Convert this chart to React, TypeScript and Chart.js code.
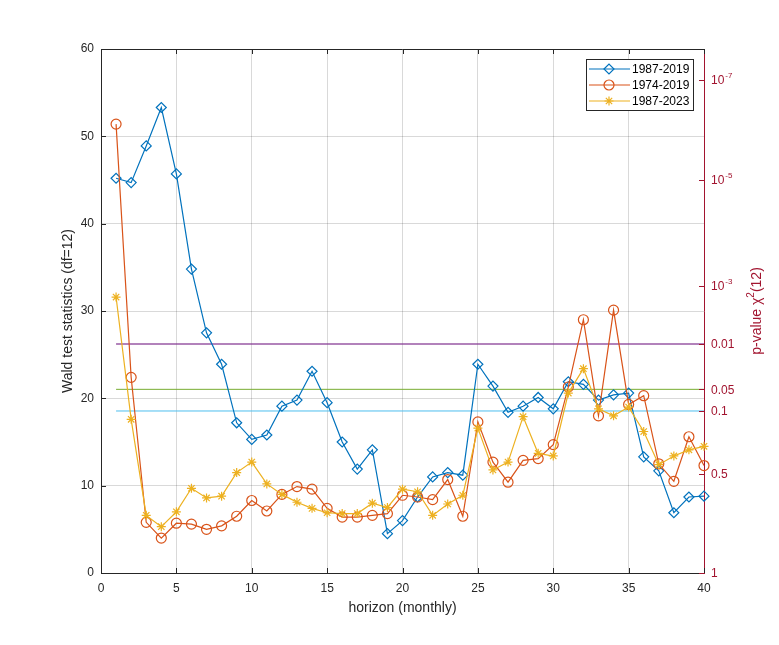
import React, { useEffect, useRef } from 'react';
import { Chart, registerables } from 'chart.js';
import { drawPoint } from 'chart.js/helpers';

Chart.register(...registerables);

const HORIZON = [
  1, 2, 3, 4, 5, 6, 7, 8, 9, 10, 11, 12, 13, 14, 15, 16, 17, 18, 19, 20,
  21, 22, 23, 24, 25, 26, 27, 28, 29, 30, 31, 32, 33, 34, 35, 36, 37, 38, 39, 40,
];

const S_1987_2019 = [
  45.2, 44.7, 48.9, 53.3, 45.7, 34.8, 27.5, 23.9, 17.2, 15.3,
  15.8, 19.1, 19.8, 23.1, 19.5, 15.0, 11.9, 14.1, 4.5, 6.0,
  8.7, 11.0, 11.5, 11.2, 23.9, 21.4, 18.4, 19.1, 20.1, 18.8,
  21.9, 21.6, 19.8, 20.4, 20.6, 13.3, 11.7, 6.9, 8.7, 8.8,
];

const S_1974_2019 = [
  51.4, 22.4, 5.8, 4.0, 5.7, 5.6, 5.0, 5.4, 6.5, 8.3,
  7.1, 9.0, 9.9, 9.6, 7.4, 6.4, 6.4, 6.6, 6.8, 8.9,
  8.7, 8.4, 10.7, 6.5, 17.3, 12.7, 10.4, 12.9, 13.1, 14.7,
  21.3, 29.0, 18.0, 30.1, 19.3, 20.3, 12.5, 10.5, 15.6, 12.3,
];

const S_1987_2023 = [
  31.6, 17.6, 6.6, 5.3, 7.0, 9.7, 8.6, 8.8, 11.5, 12.7,
  10.2, 9.0, 8.1, 7.4, 6.9, 6.8, 6.8, 8.0, 7.5, 9.6,
  9.3, 6.6, 7.9, 8.9, 16.6, 11.8, 12.7, 17.9, 13.7, 13.4,
  20.6, 23.4, 18.8, 18.0, 19.0, 16.2, 12.4, 13.4, 14.1, 14.5,
];

// chi2(12) critical values for p = 0.01, 0.05, 0.1
const CRIT_LINES = [26.22, 21.03, 18.55];
const CRIT_X = [1, 40];

// right axis: wald value -> p-value label (base, exponent)
const P_TICK_VALUES = [0, 11.34, 18.55, 21.03, 26.22, 32.91, 45.05, 56.45];
const P_TICK_BASE = ['1', '0.5', '0.1', '0.05', '0.01', '10', '10', '10'];
const P_TICK_EXP = ['', '', '', '', '', '-3', '-5', '-7'];

const BLUE = '#0072BD';
const ORANGE = '#D95319';
const YELLOW = '#EDB120';
const RED = '#A2142F';
const AXIS = '#262626';
const FONT = 'Arial, "Liberation Sans", sans-serif';

const SERIES = [
  { label: '1987-2019', data: S_1987_2019, color: BLUE, style: 'rectRot', radius: 5 },
  { label: '1974-2019', data: S_1974_2019, color: ORANGE, style: 'circle', radius: 5 },
  { label: '1987-2023', data: S_1987_2023, color: YELLOW, style: 'star', radius: 4.5 },
];

const overlay = {
  id: 'overlay',
  afterDraw(chart: any) {
    const { ctx, chartArea: a, scales } = chart;
    const xs = scales.x;
    const ys = scales.y;
    const y1 = scales.y1;
    ctx.save();

    // top border
    ctx.strokeStyle = AXIS;
    ctx.lineWidth = 1;
    ctx.beginPath();
    ctx.moveTo(a.left, a.top + 0.5);
    ctx.lineTo(a.right, a.top + 0.5);
    ctx.stroke();

    // inward tick marks
    ctx.beginPath();
    xs.ticks.forEach((t: any) => {
      const px = Math.round(xs.getPixelForValue(t.value)) + 0.5;
      ctx.moveTo(px, a.bottom);
      ctx.lineTo(px, a.bottom - 5);
      ctx.moveTo(px, a.top);
      ctx.lineTo(px, a.top + 5);
    });
    ys.ticks.forEach((t: any) => {
      const py = Math.round(ys.getPixelForValue(t.value)) + 0.5;
      ctx.moveTo(a.left, py);
      ctx.lineTo(a.left + 5, py);
    });
    ctx.stroke();

    ctx.strokeStyle = RED;
    ctx.beginPath();
    P_TICK_VALUES.forEach((v) => {
      const py = Math.round(y1.getPixelForValue(v)) + 0.5;
      ctx.moveTo(a.right, py);
      ctx.lineTo(a.right - 5, py);
    });
    ctx.stroke();

    // right tick labels
    ctx.fillStyle = RED;
    ctx.textBaseline = 'middle';
    ctx.textAlign = 'left';
    P_TICK_VALUES.forEach((v, i) => {
      const py = y1.getPixelForValue(v);
      const x0 = a.right + 7;
      ctx.font = `12px ${FONT}`;
      ctx.fillText(P_TICK_BASE[i], x0, py + 1);
      if (P_TICK_EXP[i]) {
        const w = ctx.measureText(P_TICK_BASE[i]).width;
        ctx.font = `8px ${FONT}`;
        ctx.fillText(P_TICK_EXP[i], x0 + w + 1, py - 4);
      }
    });

    // axis titles
    ctx.fillStyle = AXIS;
    ctx.font = `14px ${FONT}`;
    ctx.textAlign = 'center';
    ctx.fillText('horizon (monthly)', (a.left + a.right) / 2, 608);

    ctx.save();
    ctx.translate(68, (a.top + a.bottom) / 2);
    ctx.rotate(-Math.PI / 2);
    ctx.fillText('Wald test statistics (df=12)', 0, 0);
    ctx.restore();

    ctx.save();
    ctx.translate(757, (a.top + a.bottom) / 2);
    ctx.rotate(-Math.PI / 2);
    ctx.fillStyle = RED;
    const p1 = 'p-value \u03C7';
    const p2 = '2';
    const p3 = '(12)';
    ctx.font = `14px ${FONT}`;
    const w1 = ctx.measureText(p1).width;
    const w3 = ctx.measureText(p3).width;
    ctx.font = `10px ${FONT}`;
    const w2 = ctx.measureText(p2).width;
    let tx = -(w1 + w2 + w3) / 2;
    ctx.textAlign = 'left';
    ctx.font = `14px ${FONT}`;
    ctx.fillText(p1, tx, 0);
    tx += w1;
    ctx.font = `10px ${FONT}`;
    ctx.fillText(p2, tx, -6);
    tx += w2;
    ctx.font = `14px ${FONT}`;
    ctx.fillText(p3, tx, 0);
    ctx.restore();

    // legend
    const bw = 107;
    const bh = 51;
    const bx = a.right - 11 - bw;
    const by = a.top + 10;
    ctx.fillStyle = '#ffffff';
    ctx.fillRect(bx, by, bw, bh);
    ctx.strokeStyle = AXIS;
    ctx.lineWidth = 1;
    ctx.strokeRect(bx + 0.5, by + 0.5, bw, bh);
    SERIES.forEach((s, i) => {
      const ry = by + 10 + i * 16;
      ctx.strokeStyle = s.color;
      ctx.lineWidth = 1.2;
      ctx.beginPath();
      ctx.moveTo(bx + 3, ry);
      ctx.lineTo(bx + 44, ry);
      ctx.stroke();
      ctx.fillStyle = 'rgba(0,0,0,0)';
      drawPoint(ctx, { pointStyle: s.style, radius: s.radius, rotation: 0, borderWidth: 1.2 } as any, bx + 23, ry);
      ctx.fillStyle = '#000000';
      ctx.font = `12px ${FONT}`;
      ctx.textAlign = 'left';
      ctx.textBaseline = 'middle';
      ctx.fillText(s.label, bx + 46, ry + 1);
    });

    ctx.restore();
  },
};

const App: React.FC = () => {
  const chartRef = useRef<HTMLCanvasElement>(null);

  useEffect(() => {
    document.body.style.margin = '0';
    const ctx = chartRef.current?.getContext('2d');
    if (!ctx) return;

    const critColors = ['rgba(126, 47, 142, 0.6)', '#77AC30', '#4DBEEE'];
    const critWidths = [2, 1, 1];

    const chart = new Chart(ctx, {
      type: 'line',
      data: {
        datasets: [
          ...SERIES.map((s, i) => ({
            label: s.label,
            data: s.data.map((v, j) => ({ x: HORIZON[j], y: v })),
            borderColor: s.color,
            borderWidth: 1.2,
            pointStyle: s.style as any,
            pointRadius: s.radius,
            pointBorderWidth: 1.2,
            pointBorderColor: s.color,
            pointBackgroundColor: 'rgba(0,0,0,0)',
            tension: 0,
            clip: false as any,
            order: 2 - i,
          })),
          ...CRIT_LINES.map((c, i) => ({
            label: 'crit' + i,
            data: CRIT_X.map((x) => ({ x, y: c })),
            borderColor: critColors[i],
            borderWidth: critWidths[i],
            pointRadius: 0,
            order: 5,
          })),
        ],
      },
      options: {
        responsive: false,
        animation: false,
        layout: { padding: { top: 49, left: 0, right: 0, bottom: 0 } },
        plugins: {
          legend: { display: false },
          tooltip: { enabled: false },
        },
        scales: {
          x: {
            type: 'linear',
            min: 0,
            max: 40,
            ticks: { stepSize: 5, color: AXIS, font: { size: 12, family: FONT }, padding: 8 },
            grid: { color: 'rgba(0,0,0,0.15)', drawTicks: false },
            border: { color: AXIS },
            afterFit: (s: any) => {
              s.height = 72;
            },
          },
          y: {
            position: 'left',
            min: 0,
            max: 60,
            ticks: { stepSize: 10, color: AXIS, font: { size: 12, family: FONT }, padding: 7 },
            grid: { color: 'rgba(0,0,0,0.15)', drawTicks: false },
            border: { color: AXIS },
            afterFit: (s: any) => {
              s.width = 101;
            },
          },
          y1: {
            position: 'right',
            min: 0,
            max: 60,
            ticks: { display: false },
            grid: { drawOnChartArea: false, drawTicks: false },
            border: { color: RED },
            afterFit: (s: any) => {
              s.width = 75;
            },
          },
        },
      },
      plugins: [overlay],
    });

    return () => {
      chart.destroy();
    };
  }, []);

  return (
    <div style={{ width: 779, height: 645 }}>
      <canvas ref={chartRef} width={779} height={645} />
    </div>
  );
};

export default App;
